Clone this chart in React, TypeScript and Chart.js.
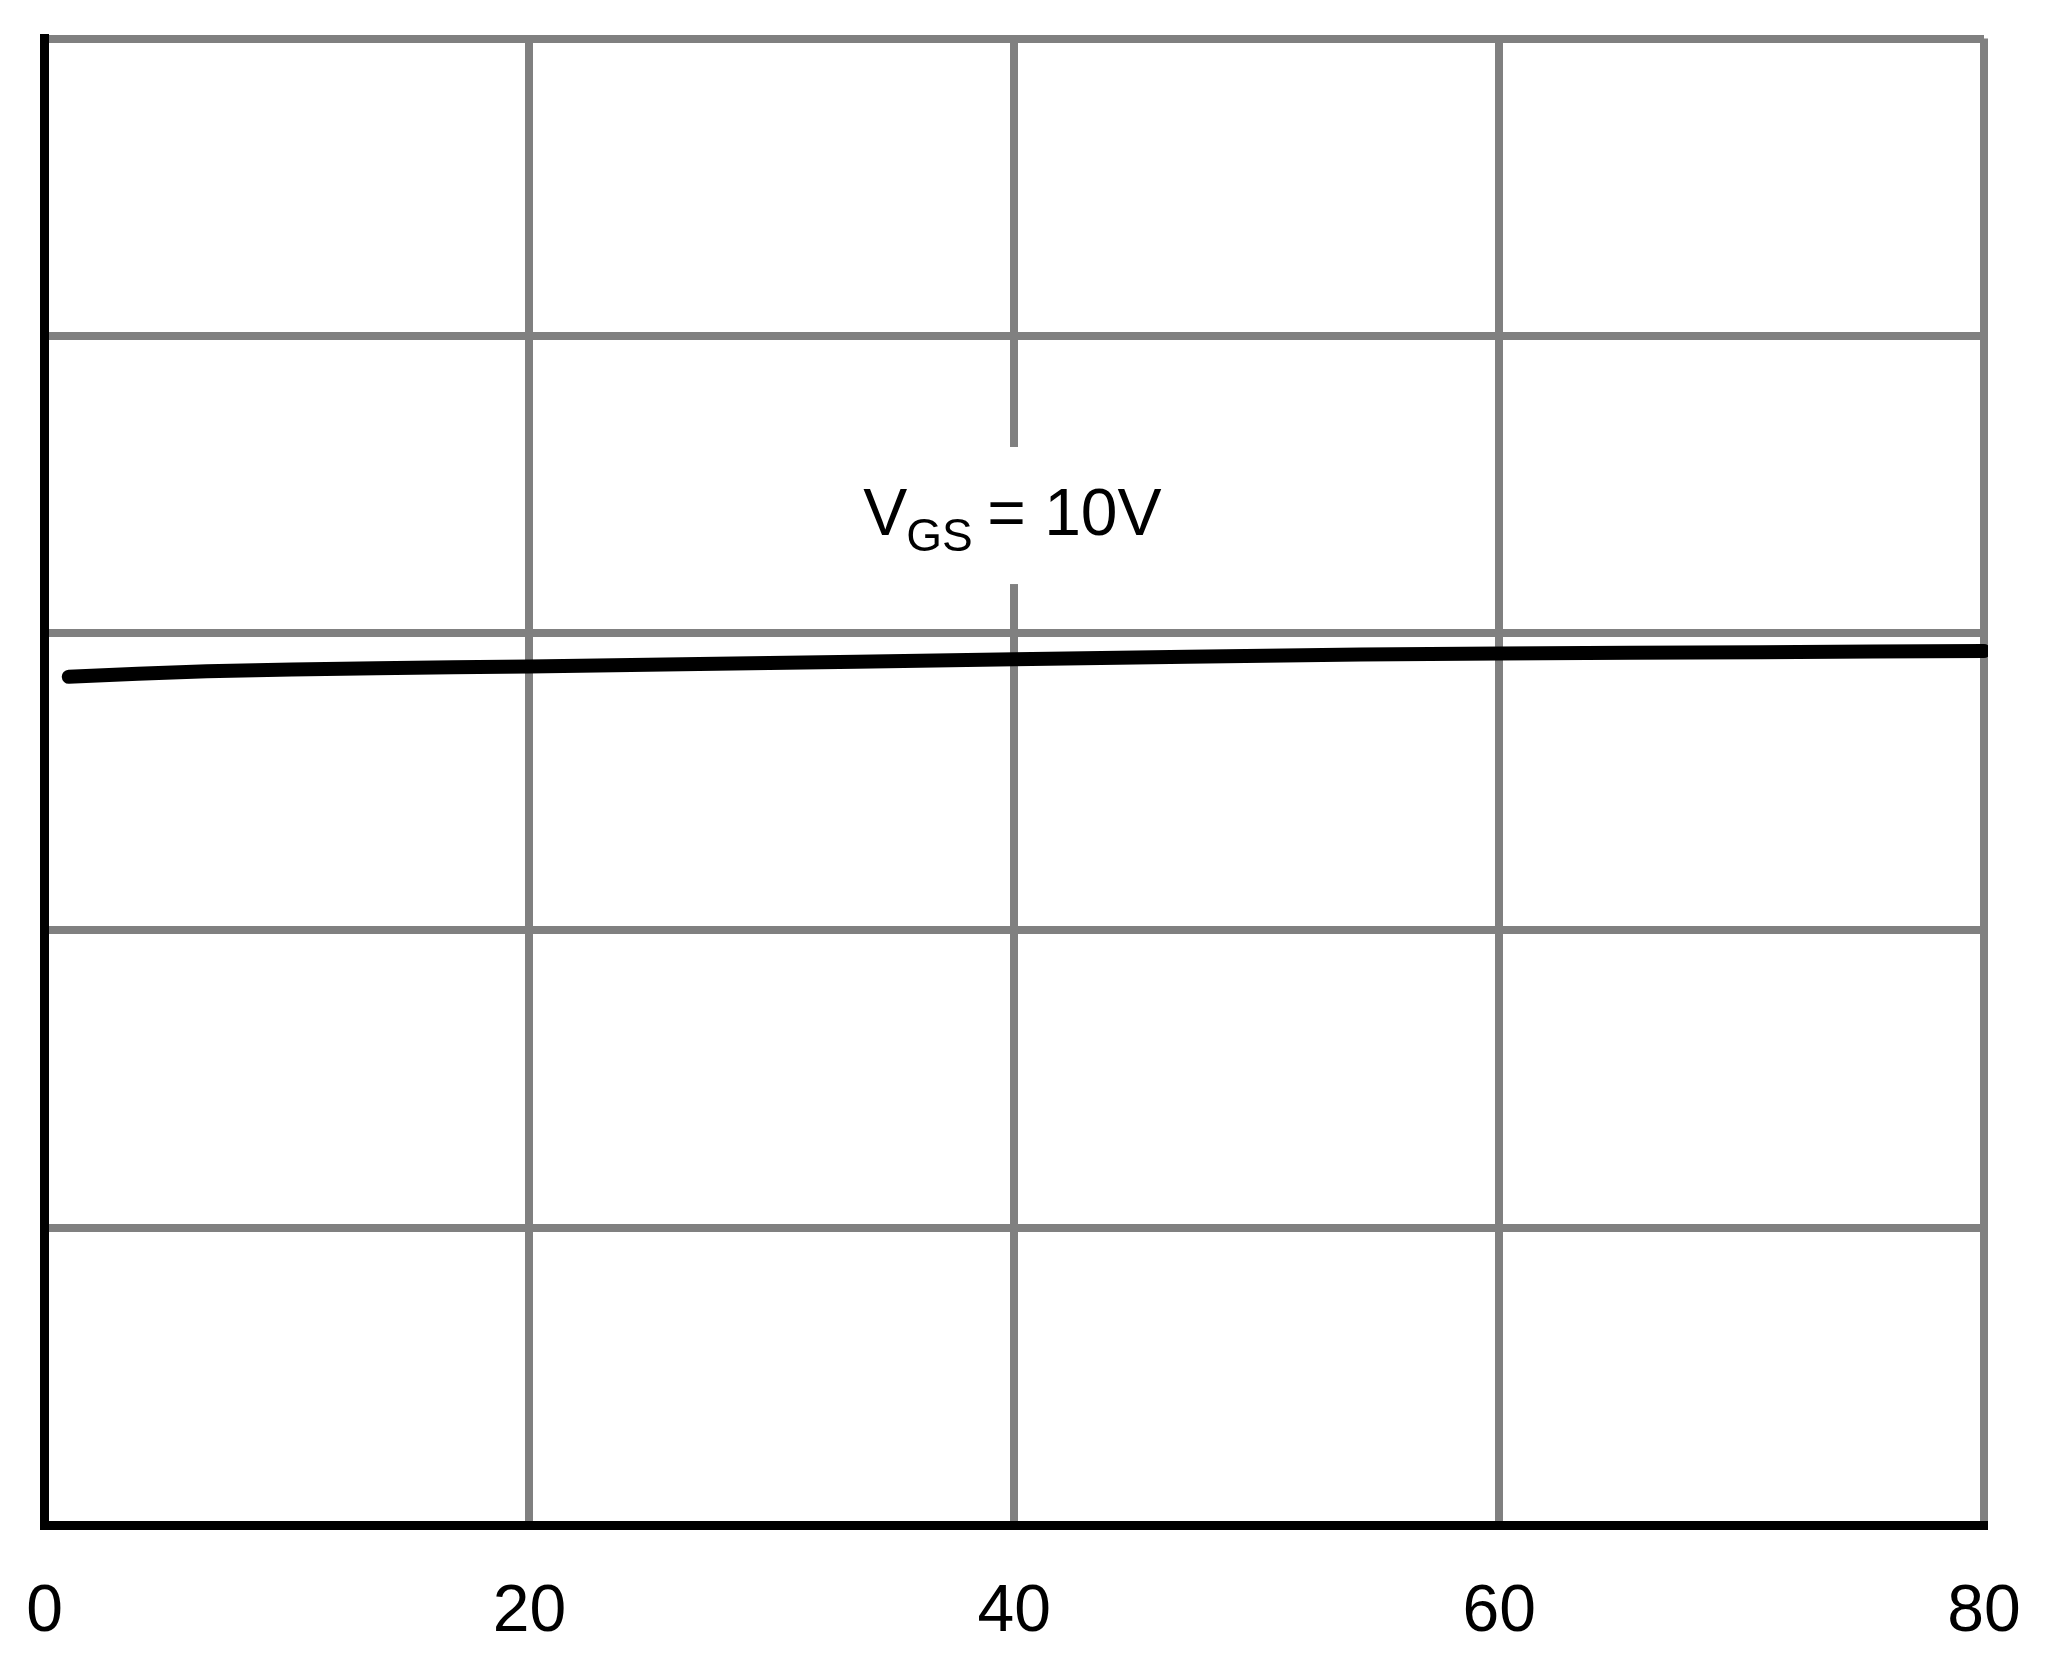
import React, { useEffect, useRef } from "react";
import { Chart, registerables } from "chart.js";

Chart.register(...registerables);

// Data (x: drain current axis 0..80, y: arbitrary units, 5 grid divisions)
const xValues = [1, 6.7, 13.7, 20, 27, 40, 54.3, 60, 70.8, 80];
const yValues = [2.853, 2.872, 2.882, 2.888, 2.896, 2.912, 2.928, 2.931, 2.936, 2.94];
const xTicks = [0, 20, 40, 60, 80];
const yTicks = [0, 1, 2, 3, 4, 5];

// Annotation label (data coordinates)
const labelMain = "V";
const labelSub = "GS";
const labelRest = "= 10V";
const labelX = 40;
const labelY = 3.33;
const labelBox = { xMin: 33, xMax: 47, yMin: 3.165, yMax: 3.626 };

const FONT = '"Liberation Sans", Arial, sans-serif';

export default function App() {
  const canvasRef = useRef<HTMLCanvasElement | null>(null);

  useEffect(() => {
    const canvas = canvasRef.current;
    if (!canvas) return;

    const labelPlugin = {
      id: "vgsLabel",
      afterDraw(chart: any) {
        const ctx = chart.ctx;
        const xs = chart.scales.x;
        const ys = chart.scales.y;
        const bx1 = xs.getPixelForValue(labelBox.xMin);
        const bx2 = xs.getPixelForValue(labelBox.xMax);
        const by1 = ys.getPixelForValue(labelBox.yMax);
        const by2 = ys.getPixelForValue(labelBox.yMin);
        ctx.save();
        ctx.fillStyle = "#ffffff";
        ctx.fillRect(bx1, by1, bx2 - bx1, by2 - by1);
        const ax = xs.getPixelForValue(labelX);
        const ay = ys.getPixelForValue(labelY);
        ctx.fillStyle = "#000000";
        ctx.textAlign = "left";
        ctx.textBaseline = "alphabetic";
        ctx.font = `66px ${FONT}`;
        ctx.fillText(labelMain, ax - 151, ay);
        ctx.font = `46px ${FONT}`;
        ctx.fillText(labelSub, ax - 108, ay + 16);
        ctx.font = `66px ${FONT}`;
        ctx.fillText(labelRest, ax - 27, ay);
        ctx.restore();
      },
    };

    const chart = new Chart(canvas, {
      type: "line",
      data: {
        datasets: [
          {
            data: xValues.map((x, i) => ({ x, y: yValues[i] })),
            borderColor: "#000000",
            borderWidth: 14,
            borderCapStyle: "round",
            borderJoinStyle: "round",
            pointRadius: 0,
            tension: 0.2,
            fill: false,
            clip: { left: 20, top: 20, bottom: 20, right: 4 } as any,
          },
        ],
      },
      options: {
        animation: false,
        responsive: true,
        maintainAspectRatio: false,
        devicePixelRatio: 1,
        layout: { padding: { left: 44.5, top: 38.5, right: 74, bottom: 0 } },
        plugins: {
          legend: { display: false },
          tooltip: { enabled: false },
          title: { display: false },
        },
        scales: {
          x: {
            type: "linear",
            min: xTicks[0],
            max: xTicks[xTicks.length - 1],
            afterBuildTicks: (s: any) => {
              s.ticks = xTicks.map((v) => ({ value: v }));
            },
            afterFit: (s: any) => {
              s.height = 131;
            },
            ticks: {
              color: "#000000",
              font: { family: FONT, size: 66 },
              padding: 0,
              maxRotation: 0,
              autoSkip: false,
            },
            grid: {
              color: "#808080",
              lineWidth: 8,
              drawTicks: true,
              tickLength: 48,
              tickColor: "rgba(0,0,0,0)",
            },
            border: { color: "#000000", width: 9 },
          },
          y: {
            type: "linear",
            min: yTicks[0],
            max: yTicks[yTicks.length - 1],
            afterBuildTicks: (s: any) => {
              s.ticks = yTicks.map((v) => ({ value: v }));
            },
            afterFit: (s: any) => {
              s.width = 0;
            },
            ticks: { display: false },
            grid: { color: "#808080", lineWidth: 8, drawTicks: false },
            border: { color: "#000000", width: 9 },
          },
        },
      },
      plugins: [labelPlugin],
    });

    return () => {
      chart.destroy();
    };
  }, []);

  return (
    <div
      style={{
        position: "absolute",
        left: 0,
        top: 0,
        width: "2058px",
        height: "1656px",
        background: "#ffffff",
      }}
    >
      <canvas ref={canvasRef} />
    </div>
  );
}
